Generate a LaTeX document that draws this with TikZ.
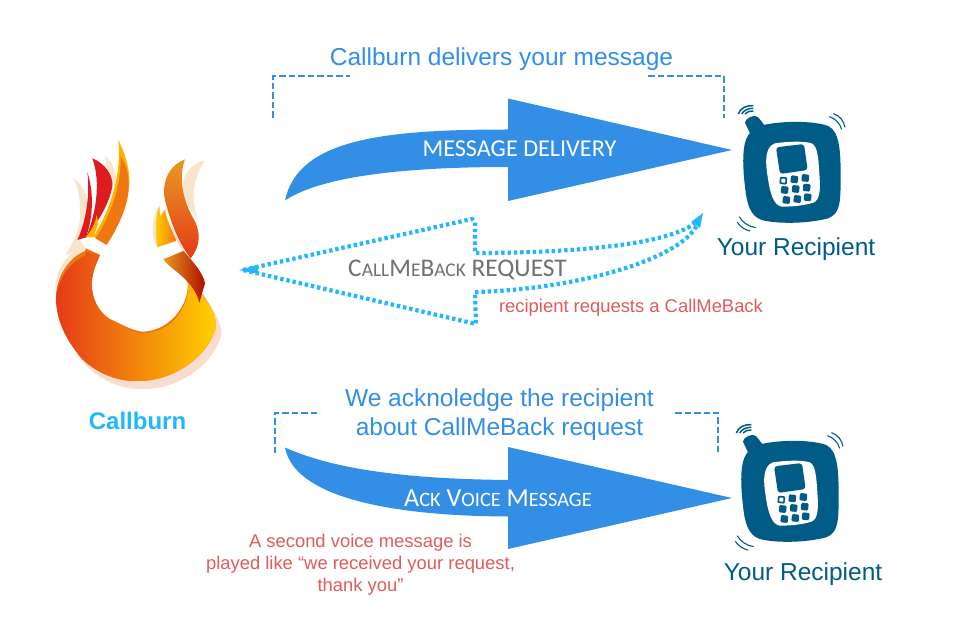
\documentclass[tikz,border=0pt]{standalone}
\usepackage{fontspec}
\setmainfont{Liberation Sans}
\newfontfamily\capsfont{Carlito}
\definecolor{arrowblue}{HTML}{338FE6}
\definecolor{dotblue}{HTML}{22B8FF}
\definecolor{phoneblue}{HTML}{005C86}
\definecolor{notered}{HTML}{E05C5C}
\definecolor{capsgray}{HTML}{707070}
\definecolor{halo}{HTML}{F9DDD0}
\definecolor{palecream}{HTML}{F8E6CC}
\definecolor{fireRed}{HTML}{E53A18}
\definecolor{fireDark}{HTML}{DC1C1F}
\definecolor{fireOrange}{HTML}{F0760F}
\definecolor{fireGold}{HTML}{FFD000}
\definecolor{fireAmber}{HTML}{FDB400}
\definecolor{fireTan}{HTML}{E89A20}
\newcommand\bigc{\fontsize{25.4}{28}\selectfont}
\newcommand\smc{\fontsize{19.4}{28}\selectfont}
\newcommand\ackbig{\fontsize{26}{28}\selectfont}
\newcommand\acksmall{\fontsize{20.4}{28}\selectfont}
\newcommand\logobody{(165,393) .. controls (110,415) and (75,480) .. (78,540) .. controls (82,620) and (120,670) .. (150,710) .. controls (190,755) and (260,785) .. (320,783) .. controls (440,785) and (540,700) .. (558,620) .. controls (560,570) and (510,510) .. (470,465) .. controls (490,535) and (430,635) .. (335,635) .. controls (300,630) and (270,610) .. (240,597) .. controls (205,575) and (185,535) .. (185,490) .. controls (188,450) and (200,430) .. (210,405) -- (168,385) -- cycle}
\newcommand\phoneicon{%
  \fill[phoneblue] (150,130) -- (135,98) .. controls (135,85) and (165,70) .. (175,82) -- (195,108) -- cycle;
  \fill[phoneblue] (190,105) .. controls (250,92) and (340,92) .. (385,108) .. controls (420,125) and (422,190) .. (422,260) .. controls (422,340) and (420,370) .. (385,385) .. controls (320,402) and (230,402) .. (185,390) .. controls (150,378) and (140,340) .. (135,290) .. controls (128,230) and (125,165) .. (145,135) .. controls (155,120) and (170,112) .. (190,105) -- cycle;
  \fill[white] (225,160) .. controls (260,155) and (310,152) .. (335,160) .. controls (352,168) and (355,200) .. (358,250) .. controls (362,300) and (360,330) .. (340,338) .. controls (310,348) and (270,350) .. (245,350) .. controls (220,345) and (210,310) .. (203,260) .. controls (195,215) and (195,170) .. (225,160) -- cycle;
  \fill[phoneblue,rounded corners=3pt] (228,172) -- (312,162) -- (323,240) -- (240,252) -- cycle;
  \foreach \kx/\ky in {283/268,316/264,254/300,287/297,320/293,259/330,292/327,323/322}
    \fill[phoneblue,rounded corners=1.2pt,rotate around={-6:(\kx,\ky)}] (\kx-11,\ky-11) rectangle (\kx+11,\ky+11);
  \fill[phoneblue,rounded corners=1.2pt,rotate around={-6:(250,272)}] (239,261) rectangle (261,283);
  \fill[white,rounded corners=.8pt,rotate around={-6:(250,272)}] (244,266) rectangle (256,278);
  \draw[phoneblue,line width=1.1pt] (388,80) .. controls (405,85) and (420,100) .. (425,118);
  \draw[phoneblue,line width=1.1pt] (400,71) .. controls (420,76) and (432,95) .. (435,112);
  \draw[phoneblue,line width=1.1pt] (118,380) .. controls (125,395) and (145,410) .. (167,413);
  \draw[phoneblue,line width=1.1pt] (112,397) .. controls (120,410) and (135,420) .. (150,423);
  \draw[phoneblue,line width=1.5pt] (115,72) .. controls (120,55) and (140,45) .. (160,47);
  \draw[phoneblue,line width=1.5pt] (125,72) .. controls (130,62) and (145,54) .. (160,55);
  \draw[phoneblue,line width=1.5pt] (135,72) .. controls (140,66) and (150,62) .. (160,63);
}
\tikzset{
  solidarrow/.style={fill=arrowblue},
  bracket/.style={draw=arrowblue,line width=2pt,dash pattern=on 6.5pt off 3pt},
  dottedarrow/.style={draw=dotblue,line width=4.2pt,dash pattern=on 3.4pt off 2.9pt},
  headline/.style={text=arrowblue,font=\fontsize{24.5}{29}\selectfont,align=center},
  recipient/.style={text=phoneblue,font=\fontsize{24.5}{28}\selectfont},
  remark/.style={text=notered,font=\fontsize{18.4}{22}\selectfont,align=center},
  capslabel/.style={font=\capsfont\fontsize{24.2}{28}\selectfont}
}
\begin{document}
\begin{tikzpicture}[x=1pt,y=-1pt]
\useasboundingbox (0,0) rectangle (957,644);
\fill[white] (0,0) rectangle (957,644);

% top arrow
\fill[solidarrow] (285,200.5) .. controls (298,140) and (380,129.5) .. (508,129.5) -- (508,98.5) -- (732,150) -- (508,201) -- (508,167) .. controls (400,167) and (320,177) .. cycle;
% bottom arrow
\fill[solidarrow] (285,447.5) .. controls (335,470) and (410,479) .. (508,480) -- (508,447) -- (732,498) -- (508,549) -- (508,516.5) .. controls (400,516) and (295,500) .. cycle;

% brackets
\draw[bracket] (273,118) -- (273,76.5) -- (350,76.5);
\draw[bracket] (648,76.5) -- (724,76.5) -- (724,118);
\draw[bracket] (275,453) -- (275,412.5) -- (320,412.5);
\draw[bracket] (675,412.5) -- (718,412.5) -- (718,453);

% dotted arrow
\draw[dottedarrow] (243,270) -- (472,219) -- (475,222) -- (475,253) .. controls (570,253) and (680,245) .. (700,218) .. controls (690,260) and (570,290) .. (475,292) -- (476,324) -- cycle;
\fill[dotblue] (239,270) -- (258,265) -- (258,274) -- cycle;
\fill[dotblue] (703,213) -- (691,222) -- (700,228) -- cycle;

% logo
\begin{scope}[shift={(30,120)},x=.3333pt,y=-.3333pt]
  \fill[palecream] (130,175) .. controls (160,195) and (175,230) .. (175,270) -- (150,360) -- (168,385) -- (108,405) .. controls (125,370) and (150,330) .. (150,290) .. controls (150,250) and (150,210) .. (130,175) -- cycle;
  \fill[palecream] (225,108) .. controls (245,125) and (262,150) .. (255,200) -- (235,170) -- cycle;
  \fill[palecream] (525,122) .. controls (480,132) and (455,165) .. (458,215) .. controls (470,260) and (490,280) .. (505,300) .. controls (480,235) and (490,175) .. (525,122) -- cycle;
  \fill[palecream] (388,258) .. controls (365,290) and (360,340) .. (382,382) -- (395,300) -- cycle;
  \fill[halo,shift={(16,24)}] \logobody;
  \fill[halo,shift={(8,12)}] \logobody;
  \fill[palecream] (130,395) -- (165,385) -- (165,393) .. controls (120,405) and (80,470) .. (73,520) .. controls (75,460) and (100,420) .. (130,395) -- cycle;
  \fill[white] (185,490) .. controls (188,450) and (200,430) .. (210,405) -- (400,405) -- (470,465) -- (470,620) -- (185,620) -- cycle;
  \fill[fireOrange] \logobody;
  \shade[left color=fireRed,middle color=fireOrange,right color=fireGold] (165,408) .. controls (110,430) and (80,490) .. (78,540) .. controls (82,620) and (120,670) .. (150,710) .. controls (190,755) and (260,785) .. (320,783) .. controls (440,785) and (540,700) .. (558,620) .. controls (560,570) and (510,510) .. (472,478) .. controls (485,550) and (430,642) .. (335,640) .. controls (300,635) and (270,615) .. (240,600) .. controls (205,578) and (185,535) .. (185,490) .. controls (188,450) and (200,430) .. (210,405) -- (168,395) -- cycle;
  % left flames
  \fill[fireAmber] (265,60) .. controls (290,110) and (305,160) .. (295,220) .. controls (285,280) and (255,330) .. (230,373) -- (190,350) .. controls (240,270) and (275,170) .. (265,60) -- cycle;
  \fill[fireOrange] (272,108) .. controls (300,150) and (300,200) .. (290,245) .. controls (275,300) and (255,335) .. (230,375) -- (196,355) .. controls (240,290) and (275,200) .. (272,108) -- cycle;
  \fill[fireDark] (187,115) .. controls (225,130) and (250,165) .. (247,200) .. controls (235,260) and (200,310) .. (168,352) .. controls (195,290) and (215,190) .. (187,115) -- cycle;
  \fill[fireAmber] (200,285) .. controls (195,320) and (175,340) .. (168,352) -- (190,352) -- (205,310) -- cycle;
  \fill[fireDark] (172,157) .. controls (190,210) and (192,285) .. (168,352) -- (142,360) .. controls (170,300) and (180,220) .. (172,157) -- cycle;
  % right flames
  \shade[left color=fireGold,right color=fireOrange] (388,258) .. controls (375,290) and (375,340) .. (382,382) -- (440,362) .. controls (425,330) and (410,300) .. (405,268) -- (390,290) -- cycle;
  \shade[top color=fireTan,middle color=fireOrange,bottom color=fireRed] (465,118) .. controls (410,140) and (395,195) .. (405,240) .. controls (420,300) and (445,370) .. (482,415) .. controls (510,380) and (515,340) .. (490,295) .. controls (470,260) and (440,190) .. (465,118) -- cycle;
  \fill[halo] (418,300) .. controls (430,350) and (450,390) .. (480,415) -- (470,400) .. controls (450,370) and (430,330) .. (418,300) -- cycle;
  \shade[left color=fireTan,right color=red!65!black!90!orange] (400,418) -- (460,393) .. controls (490,425) and (520,460) .. (525,490) -- (508,548) .. controls (500,510) and (470,480) .. (440,455) .. controls (425,445) and (410,430) .. (400,418) -- cycle;
\end{scope}

% phones
\begin{scope}[shift={(700,90)},x=.3333pt,y=-.3333pt]
  \phoneicon
\end{scope}
\begin{scope}[shift={(698,409)},x=.3333pt,y=-.3333pt]
  \phoneicon
\end{scope}

% texts
\node[headline] (t1) at (501.5,59) {Callburn delivers your message};
\node[headline] (t2) at (499.5,415) {We acknoledge the recipient\\about CallMeBack request};
\node[recipient] (r1) at (796,249) {Your Recipient};
\node[recipient] (r2) at (803,574) {Your Recipient};
\node[text=dotblue,font=\fontsize{24}{28}\selectfont\bfseries] (cb) at (137.5,421) {Callburn};
\node[capslabel,text=white] (l1) at (519.5,149) {MESSAGE DELIVERY};
\node[capslabel,text=capsgray] (l2) at (457.5,269.5) {\bigc C{\smc ALL}M{\smc E}B{\smc ACK} REQUEST};
\node[capslabel,text=white] (l3) at (498,498) {\ackbig A{\acksmall CK} V{\acksmall OICE} M{\acksmall ESSAGE}};
\node[remark,anchor=center] (n1) at (631,308) {recipient requests a CallMeBack};
\node[remark] (n2) at (360.5,565) {A second voice message is\\played like “we received your request,\\thank you”};
\end{tikzpicture}
\end{document}
